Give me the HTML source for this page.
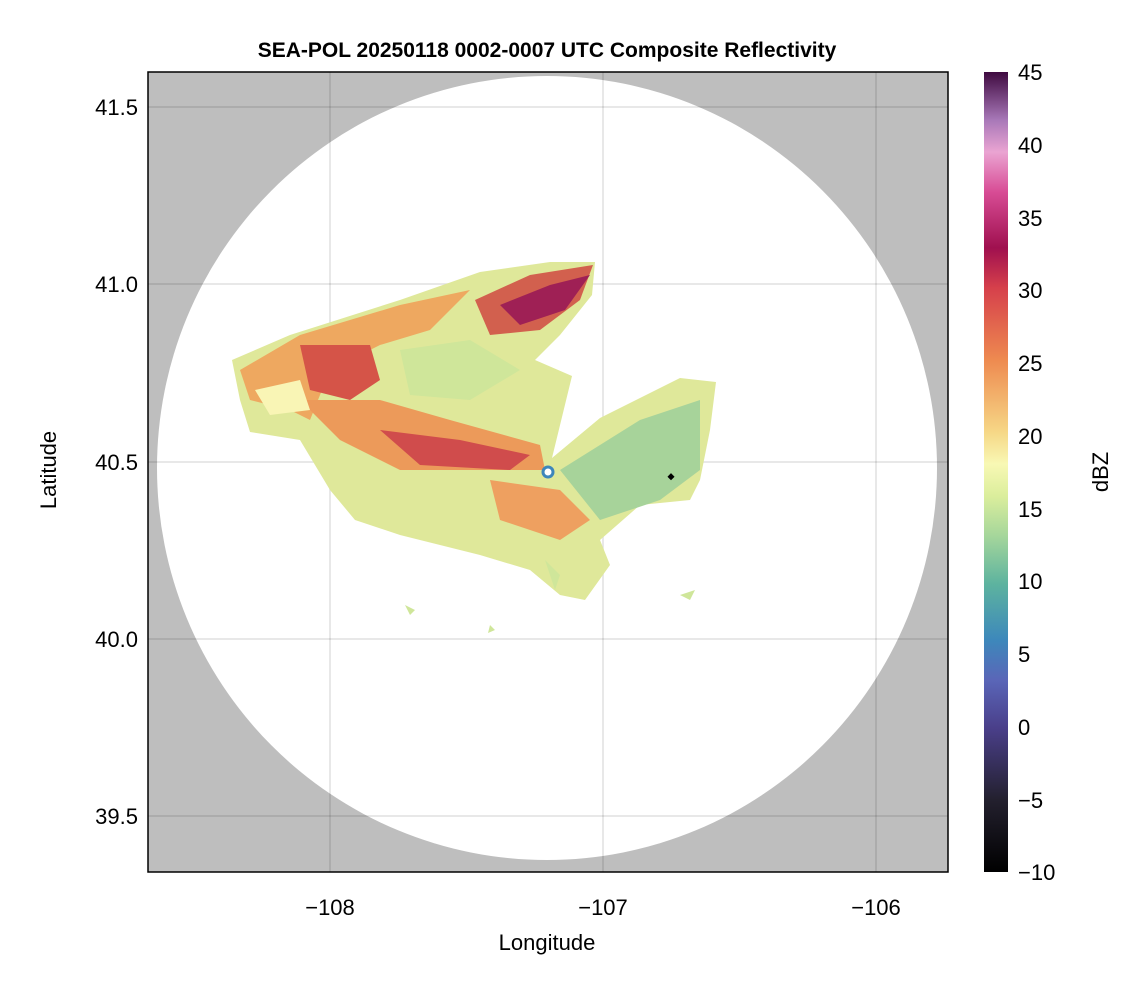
<!DOCTYPE html>
<html><head><meta charset="utf-8"><style>
body{margin:0;background:#fff;}
svg text{font-family:"Liberation Sans",sans-serif;}
</style></head><body>
<svg width="1146" height="990" viewBox="0 0 1146 990" xmlns="http://www.w3.org/2000/svg">
<defs>
<linearGradient id="cb" x1="0" y1="1" x2="0" y2="0">
<stop offset="0" stop-color="#000000"/>
<stop offset="0.09" stop-color="#23202e"/>
<stop offset="0.18" stop-color="#4a3f8a"/>
<stop offset="0.24" stop-color="#5a66b8"/>
<stop offset="0.29" stop-color="#3d88bb"/>
<stop offset="0.36" stop-color="#5db39f"/>
<stop offset="0.42" stop-color="#a5d69b"/>
<stop offset="0.47" stop-color="#dbee9c"/>
<stop offset="0.51" stop-color="#f8f8b4"/>
<stop offset="0.55" stop-color="#f6d786"/>
<stop offset="0.64" stop-color="#ee8a50"/>
<stop offset="0.73" stop-color="#d6404b"/>
<stop offset="0.78" stop-color="#a0104f"/>
<stop offset="0.85" stop-color="#d84c95"/>
<stop offset="0.9" stop-color="#eaa4d2"/>
<stop offset="0.94" stop-color="#a878b8"/>
<stop offset="1" stop-color="#3f0a40"/>
</linearGradient>
<clipPath id="pa"><rect x="148" y="72" width="800" height="800"/></clipPath>
</defs>
<g clip-path="url(#pa)">
<rect x="148" y="72" width="800" height="800" fill="#bebebe"/>
<ellipse cx="547" cy="468" rx="390" ry="392" fill="#fff"/>
<g stroke="#000" stroke-opacity="0.12" stroke-width="1.5">
<line x1="330" y1="72" x2="330" y2="872"/><line x1="603" y1="72" x2="603" y2="872"/><line x1="876" y1="72" x2="876" y2="872"/>
<line x1="148" y1="107" x2="948" y2="107"/><line x1="148" y1="284" x2="948" y2="284"/><line x1="148" y1="462" x2="948" y2="462"/><line x1="148" y1="639" x2="948" y2="639"/><line x1="148" y1="816" x2="948" y2="816"/>
</g>
<path d="M232,360 L290,335 L400,300 L480,272 L550,262 L595,262 L592,295 L560,335 L535,360 L572,376 L552,458 L600,418 L680,378 L716,382 L710,430 L700,480 L690,500 L640,505 L600,540 L610,565 L585,600 L560,595 L530,570 L480,555 L440,545 L400,535 L355,520 L330,490 L300,440 L250,432 L240,400 Z" fill="#dfe89a"/>
<path d="M560,470 L640,420 L700,400 L700,470 L660,500 L600,520 Z" fill="#a7d39a"/>
<path d="M240,370 L300,335 L400,305 L470,290 L430,330 L380,345 L330,370 L310,420 L290,410 L250,400 Z" fill="#eea860"/>
<path d="M300,345 L370,345 L380,380 L350,400 L310,390 Z" fill="#d55448"/>
<path d="M300,400 L380,400 L450,420 L540,445 L545,470 L470,470 L400,470 L340,440 Z" fill="#ec9a5a"/>
<path d="M380,430 L460,440 L530,455 L510,470 L420,465 Z" fill="#d04c4c"/>
<path d="M475,300 L530,275 L593,265 L580,300 L540,330 L490,335 Z" fill="#d2604e"/>
<path d="M500,305 L550,285 L590,275 L565,310 L520,325 Z" fill="#9f2055"/>
<path d="M400,350 L470,340 L520,370 L470,400 L410,395 Z" fill="#cfe69a"/>
<path d="M255,390 L300,380 L310,410 L270,415 Z" fill="#f9f5b5"/>
<path d="M490,480 L560,490 L590,520 L560,540 L500,520 Z" fill="#eea060"/>
<circle cx="548" cy="472" r="5" fill="#fff" stroke="#3d86bb" stroke-width="3"/>
<rect x="669" y="474" width="5" height="5" fill="#000" transform="rotate(45 671 476)"/>
<path d="M545,560 L560,575 L555,590 Z M405,605 L415,610 L410,615 Z M680,595 L695,590 L690,600 Z M490,625 L495,630 L488,633 Z" fill="#cfe69a"/>
</g>
<rect x="148" y="72" width="800" height="800" fill="none" stroke="#000" stroke-width="1.5"/>
<g font-size="22" fill="#000">
<text x="547" y="57" text-anchor="middle" font-weight="bold" font-size="21">SEA-POL 20250118 0002-0007 UTC Composite Reflectivity</text>
<g text-anchor="middle"><text x="330" y="915">−108</text><text x="603" y="915">−107</text><text x="876" y="915">−106</text>
<text x="547" y="950">Longitude</text></g>
<g text-anchor="end"><text x="138" y="115">41.5</text><text x="138" y="292">41.0</text><text x="138" y="470">40.5</text><text x="138" y="647">40.0</text><text x="138" y="824">39.5</text></g>
<text transform="translate(56,470) rotate(-90)" text-anchor="middle">Latitude</text>
</g>
<rect x="984" y="72" width="24" height="800" fill="url(#cb)"/>
<g font-size="22" fill="#000">
<text x="1018" y="80">45</text><text x="1018" y="153">40</text><text x="1018" y="226">35</text><text x="1018" y="298">30</text><text x="1018" y="371">25</text><text x="1018" y="444">20</text><text x="1018" y="517">15</text><text x="1018" y="589">10</text><text x="1018" y="662">5</text><text x="1018" y="735">0</text><text x="1018" y="808">−5</text><text x="1018" y="880">−10</text>
<text transform="translate(1108,472) rotate(-90)" text-anchor="middle">dBZ</text>
</g>
</svg>
</body></html>
